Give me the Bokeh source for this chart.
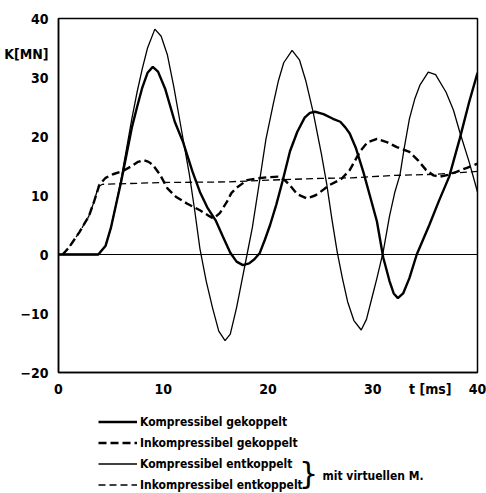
from bokeh.plotting import figure
from bokeh.models import (Range1d, FixedTicker, Span, Label, Legend, LegendItem,
                          LinearAxis)
from bokeh.layouts import column
from bokeh.embed import file_html
from bokeh.resources import INLINE

# --- data ---
x_ticks = [0, 10, 20, 30, 40]
y_ticks = [-20, -10, 0, 10, 20, 30, 40]

series_names = [
    "Kompressibel gekoppelt",
    "Inkompressibel gekoppelt",
    "Kompressibel entkoppelt",
    "Inkompressibel entkoppelt",
]
brace_text = "mit virtuellen M."
x_label = "t [ms]"
x_label_pos = 35.5
y_label = "K[MN]"
y_label_pos = 34

# Kompressibel gekoppelt (thick solid)
kg_t = [0, 3.8, 4.5, 5.0, 5.5, 6.0, 6.5, 7.0, 7.5, 8.0, 8.5, 9.0, 9.5, 10.2, 11.1, 11.9,
        12.8, 13.5, 14.2, 15.0, 15.7, 16.4, 17.0, 17.6, 18.2, 18.7, 19.2, 19.7, 20.2,
        20.8, 21.4, 22.1, 22.8, 23.5, 24.0, 24.5, 25.3, 26.2, 26.9, 27.4, 27.8, 28.4,
        29.1, 29.8, 30.4, 31.0, 31.6, 32.0, 32.4, 32.9, 33.5, 34.2, 34.8, 35.4, 36.3,
        37.3, 38.3, 39.2, 40.0]
kg_k = [0, 0, 1.5, 4.5, 8.5, 12.5, 17, 21.5, 25, 28.3, 30.8, 31.8, 31, 28, 22.5, 19,
        14, 10.6, 8, 5.8, 3, 0.3, -1.2, -1.8, -1.5, -0.8, 0.2, 2.5, 5,
        8.5, 12.5, 17.5, 20.8, 23.2, 24, 24.2, 23.8, 23, 22.5, 21.5, 20.5, 18,
        14, 9.5, 5.6, -0.5, -4.5, -6.6, -7.4, -6.6, -4, 0, 2.5, 5, 9,
        13.2, 19.6, 25.8, 30.8]

# Inkompressibel gekoppelt (thick dashed)
ig_t = [0.4, 1.0, 2.0, 2.9, 3.4, 3.9, 4.5, 5.2, 6.2, 7.0, 7.6, 8.1, 8.6, 9.0, 9.7, 10.4,
        11.2, 12.3, 13.5, 14.4, 14.8, 15.4, 16.1, 16.5, 17.0, 18.0, 19.0, 20.0, 21.0,
        21.6, 22.1, 22.8, 23.7, 24.5, 25.0, 25.9, 27.0, 27.8, 28.8, 29.5, 30.4, 31.4,
        32.3, 33.5, 34.3, 35.1, 35.8, 36.4, 37.2, 38.0, 39.0, 40.0]
ig_k = [0, 1.2, 3.8, 6.5, 9, 11.8, 13.0, 13.6, 14.2, 15, 15.7, 16, 15.7, 15.2, 13.5, 11.2,
        9.8, 8.6, 7.5, 6.5, 6.1, 7, 9, 10.4, 11.3, 12.6, 12.9, 13.1, 13.2,
        12.6, 11.7, 10.2, 9.5, 10, 10.6, 11.8, 12.8, 14.3, 17.5, 19, 19.6, 19,
        18.2, 17.4, 16, 14.3, 13.4, 13.2, 13.5, 14, 14.7, 15.4]

# Kompressibel entkoppelt (thin solid)
ke_t = [0, 3.8, 4.5, 5.0, 5.5, 6.0, 6.5, 7.0, 7.5, 8.0, 8.5, 9.2, 9.8, 10.4, 11.0, 11.6,
        12.0, 12.5, 13.0, 13.5, 14.1, 14.7, 15.3, 15.9, 16.4, 17.0, 17.5, 18.0, 18.5,
        19.2, 19.8, 20.5, 21.0, 21.5, 22.3, 23.0, 23.6, 24.3, 25.1, 25.6, 26.1, 26.6,
        27.1, 27.6, 28.2, 28.9, 29.4, 29.9, 30.4, 31.0, 31.6, 32.1, 32.6, 33.0, 33.5,
        34.0, 34.5, 35.3, 36.0, 37.0, 37.7, 38.3, 39.2, 40.0]
ke_k = [0, 0, 1.5, 4.5, 8.5, 13, 18, 23, 27.5, 31.5, 35, 38.2, 37, 33.8, 28.5, 22.5,
        18.5, 13.5, 7.5, 1, -4.5, -9, -13, -14.6, -13.5, -9, -4.5, 0, 4.5,
        12.5, 19.5, 25.5, 29.5, 32.5, 34.6, 33, 29.5, 24.2, 17, 12, 6, 0.5,
        -4, -8, -11.2, -12.8, -11, -7.5, -4, 0.5, 6.5, 10.5, 13.5, 18, 23,
        26.3, 28.7, 30.9, 30.5, 27.5, 24.5, 20.8, 15.7, 10.6]

# Inkompressibel entkoppelt (thin dashed)
ie_t = [0.4, 1.0, 2.0, 2.9, 3.4, 3.8, 4.2, 10.0, 16.0, 20.0, 25.0, 28.0, 32.0, 36.0, 40.0]
ie_k = [0, 1.2, 3.8, 6.5, 9, 11.5, 11.9, 12.2, 12.3, 12.6, 12.9, 13.0, 13.4, 13.6, 14.1]

FONT = "DejaVu Sans Condensed"
styles = [dict(line_width=2.4), dict(line_width=2.4, line_dash="8 4"),
          dict(line_width=1.3), dict(line_width=1.3, line_dash="7 4")]

# ---------------- main chart ----------------
p = figure(width=486, height=412, output_backend="svg", toolbar_location=None,
           x_range=Range1d(0, 40), y_range=Range1d(-20, 40),
           min_border_left=58, min_border_right=9, min_border_top=18,
           min_border_bottom=40)
p.grid.visible = False
p.outline_line_color = "black"
p.outline_line_width = 1.5

# label axes (carry tick labels plus the axis titles, no tick marks)
p.xaxis[0].ticker = FixedTicker(ticks=x_ticks + [x_label_pos])
p.xaxis[0].major_label_overrides = {x_label_pos: x_label}
p.yaxis[0].ticker = FixedTicker(ticks=y_ticks + [y_label_pos])
p.yaxis[0].major_label_overrides = {y_label_pos: y_label}
for ax in (p.xaxis[0], p.yaxis[0]):
    ax.axis_line_width = 1.5
    ax.major_tick_line_color = None
    ax.major_tick_in = 0
    ax.major_tick_out = 0
    ax.minor_tick_line_color = None
    ax.major_label_text_font = FONT
    ax.major_label_text_font_style = "bold"
    ax.major_label_text_font_size = "14px"
    ax.major_label_text_color = "black"
p.xaxis[0].major_label_standoff = 8
p.yaxis[0].major_label_standoff = 10

# tick-mark axes (drawn at the frame edges, no labels)
for side, ticks, loc in (("below", x_ticks, -20), ("left", y_ticks, 0)):
    ax = LinearAxis(ticker=FixedTicker(ticks=ticks), fixed_location=loc,
                    axis_line_color=None, major_tick_in=0, major_tick_out=4,
                    major_tick_line_width=1.5, minor_tick_line_color=None,
                    major_label_text_font_size="1px", major_label_text_color=None,
                    major_label_standoff=0)
    p.add_layout(ax, side)

p.add_layout(Span(location=0, dimension="width", line_color="black", line_width=1.2))

for t, k, st in ((kg_t, kg_k, styles[0]), (ig_t, ig_k, styles[1]),
                 (ke_t, ke_k, styles[2]), (ie_t, ie_k, styles[3])):
    p.line(t, k, line_color="black", **st)

# ---------------- legend strip ----------------
# (the column aligns this strip's frame with the chart frame, which starts at x=58)
p2 = figure(width=486, height=81, output_backend="svg", toolbar_location=None,
            x_range=Range1d(0, 1), y_range=Range1d(0, 1),
            x_axis_location=None, y_axis_location=None,
            min_border_left=0, min_border_right=0, min_border_top=0,
            min_border_bottom=0)
p2.grid.visible = False
p2.outline_line_color = None
# sample renderers kept outside the visible range; only their legend glyphs show
rs = [p2.line([5, 6], [5, 6], line_color="black", **st) for st in styles]

legend = Legend(items=[LegendItem(label=n, renderers=[r]) for n, r in zip(series_names, rs)],
                location=(40, 0), orientation="vertical",
                glyph_width=39, glyph_height=17, label_height=17, spacing=4,
                label_standoff=3, padding=0, margin=0,
                border_line_color=None, background_fill_alpha=0,
                label_text_font=FONT, label_text_font_style="bold",
                label_text_font_size="12px", label_text_color="black")
p2.add_layout(legend)

p2.add_layout(Label(x=250, y=20, text="}", text_align="center", text_baseline="middle",
                    text_font_size="30px", x_units="screen", y_units="screen",
                    text_font="DejaVu Sans", text_color="black"))
p2.add_layout(Label(x=264, y=18, text=brace_text, text_align="left",
                    text_baseline="middle", text_font_size="12px",
                    x_units="screen", y_units="screen", text_font=FONT,
                    text_font_style="bold", text_color="black"))

layout = column(p, p2, spacing=0)
open("out.html", "w").write(file_html(layout, INLINE))
